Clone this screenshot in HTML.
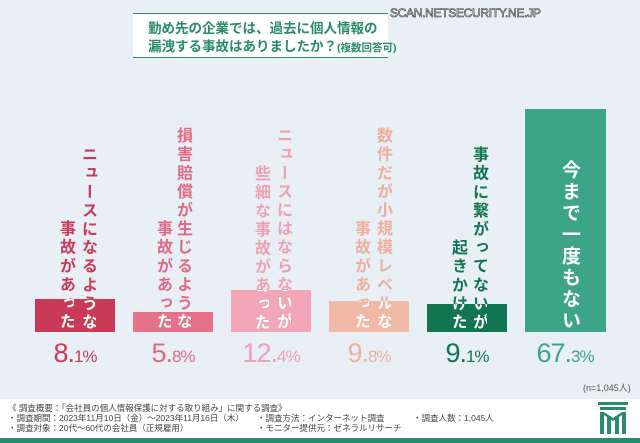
<!DOCTYPE html>
<html><head><meta charset="utf-8"><style>
*{margin:0;padding:0;box-sizing:border-box}
body{width:640px;height:443px;overflow:hidden;background:#e8eff7;font-family:"Liberation Sans","Noto Sans CJK JP",sans-serif;position:relative}
.a{position:absolute}
.col{position:absolute;top:100px;height:232px;width:18px;writing-mode:vertical-rl;text-align:end;font-size:16px;letter-spacing:2.6px;line-height:18px;font-weight:bold;white-space:nowrap}
.bar{position:absolute}
.pct{position:absolute;top:338px;width:80px;text-align:center;font-size:27px;line-height:30px;letter-spacing:-1px}
.pct small{font-size:17px}
.ft{position:absolute;font-size:8.5px;color:#444;white-space:nowrap}
</style></head><body>
<div class="a" style="left:133px;top:13px;width:255px;height:45px;background:#fff;border-top:1.5px solid #2a8a6e;border-bottom:1.5px solid #2a8a6e"></div>
<div class="a" style="left:148px;top:20px;font-size:13.5px;line-height:18px;color:#2a8a6e;font-weight:bold;white-space:nowrap">勤め先の企業では、過去に個人情報の<br>漏洩する事故はありましたか？<span style="font-size:10.5px">(複数回答可)</span></div>
<div class="a" style="left:390px;top:6px;font-size:12px;color:#fff;-webkit-text-stroke:0.6px #333;letter-spacing:-0.3px">SCAN.NETSECURITY.NE.JP</div>

<div class="bar" style="left:35px;top:299px;width:80px;height:33px;background:#c83a55"></div>
<div class="bar" style="left:133px;top:312px;width:80px;height:20px;background:#e57288"></div>
<div class="bar" style="left:231px;top:290px;width:80px;height:42px;background:#f3a6b8"></div>
<div class="bar" style="left:329px;top:301px;width:80px;height:31px;background:#f0b9a5"></div>
<div class="bar" style="left:427px;top:304px;width:80px;height:28px;background:#127552"></div>
<div class="bar" style="left:525px;top:109px;width:81px;height:223px;background:#3ea488"></div>

<div class="col" style="left:78px;color:#c83a55">ニュースになるような</div>
<div class="col" style="left:56px;color:#c83a55">事故があった</div>
<div class="col" style="left:173px;color:#e06a82">損害賠償が生じるような</div>
<div class="col" style="left:153px;color:#e06a82">事故があった</div>
<div class="col" style="left:273px;color:#f0a0b3">ニュースにはならないが</div>
<div class="col" style="left:251px;color:#f0a0b3">些細な事故があった</div>
<div class="col" style="left:373px;color:#eeb09c">数件だが小規模レベルな</div>
<div class="col" style="left:351px;color:#eeb09c">事故があった</div>
<div class="col" style="left:469px;color:#127552">事故に繋がってないが</div>
<div class="col" style="left:448px;color:#127552">起きかけた</div>
<div class="col" style="left:78px;color:#fff;clip-path:inset(199px 0 0 0)">ニュースになるような</div>
<div class="col" style="left:56px;color:#fff;clip-path:inset(199px 0 0 0)">事故があった</div>
<div class="col" style="left:173px;color:#fff;clip-path:inset(212px 0 0 0)">損害賠償が生じるような</div>
<div class="col" style="left:153px;color:#fff;clip-path:inset(212px 0 0 0)">事故があった</div>
<div class="col" style="left:273px;color:#fff;clip-path:inset(190px 0 0 0)">ニュースにはならないが</div>
<div class="col" style="left:251px;color:#fff;clip-path:inset(190px 0 0 0)">些細な事故があった</div>
<div class="col" style="left:373px;color:#fff;clip-path:inset(201px 0 0 0)">数件だが小規模レベルな</div>
<div class="col" style="left:351px;color:#fff;clip-path:inset(201px 0 0 0)">事故があった</div>
<div class="col" style="left:469px;color:#fff;clip-path:inset(204px 0 0 0)">事故に繋がってないが</div>
<div class="col" style="left:448px;color:#fff;clip-path:inset(204px 0 0 0)">起きかけた</div>
<div class="col" style="left:556px;width:22px;font-size:19px;letter-spacing:2.5px;color:#fff">今まで一度もない</div>

<div class="pct" style="left:35px;color:#c83a55">8.<small>1%</small></div>
<div class="pct" style="left:133px;color:#e06a82">5.<small>8%</small></div>
<div class="pct" style="left:231px;color:#f0a0b3">12.<small>4%</small></div>
<div class="pct" style="left:329px;color:#eeb09c">9.<small>8%</small></div>
<div class="pct" style="left:427px;color:#127552">9.<small>1%</small></div>
<div class="pct" style="left:525px;color:#3ea488">67.<small>3%</small></div>

<div class="ft" style="left:583px;top:381px;font-size:9px;color:#555">(n=1,045人)</div>
<div class="a" style="left:0;top:399px;width:640px;height:39px;background:#fff"></div>
<div class="a" style="left:0;top:438px;width:640px;height:5px;background:#2a8a6e"></div>
<div class="ft" style="left:8px;top:402px">《 調査概要：「会社員の個人情報保護に対する取り組み」に関する調査》</div>
<div class="ft" style="left:8px;top:412px">・調査期間：2023年11月10日（金）～2023年11月16日（木）</div>
<div class="ft" style="left:8px;top:422px">・調査対象：20代～60代の会社員（正規雇用）</div>
<div class="ft" style="left:257px;top:412px">・調査方法：インターネット調査</div>
<div class="ft" style="left:257px;top:422px">・モニター提供元：ゼネラルリサーチ</div>
<div class="ft" style="left:413px;top:412px">・調査人数：1,045人</div>
<svg class="a" style="left:598px;top:402px" width="30" height="32" viewBox="0 0 30 32">
<g fill="#2a8a6e"><rect x="0" y="0" width="30" height="3"/><rect x="2" y="5" width="26" height="3"/><path d="M2 10h4v22H2zM9 14h4v18H9zM17 14h4v18h-4zM24 10h4v22h-4z"/><path d="M6 10l9 6 9-6v3l-9 6-9-6z"/></g>
</svg>
</body></html>
